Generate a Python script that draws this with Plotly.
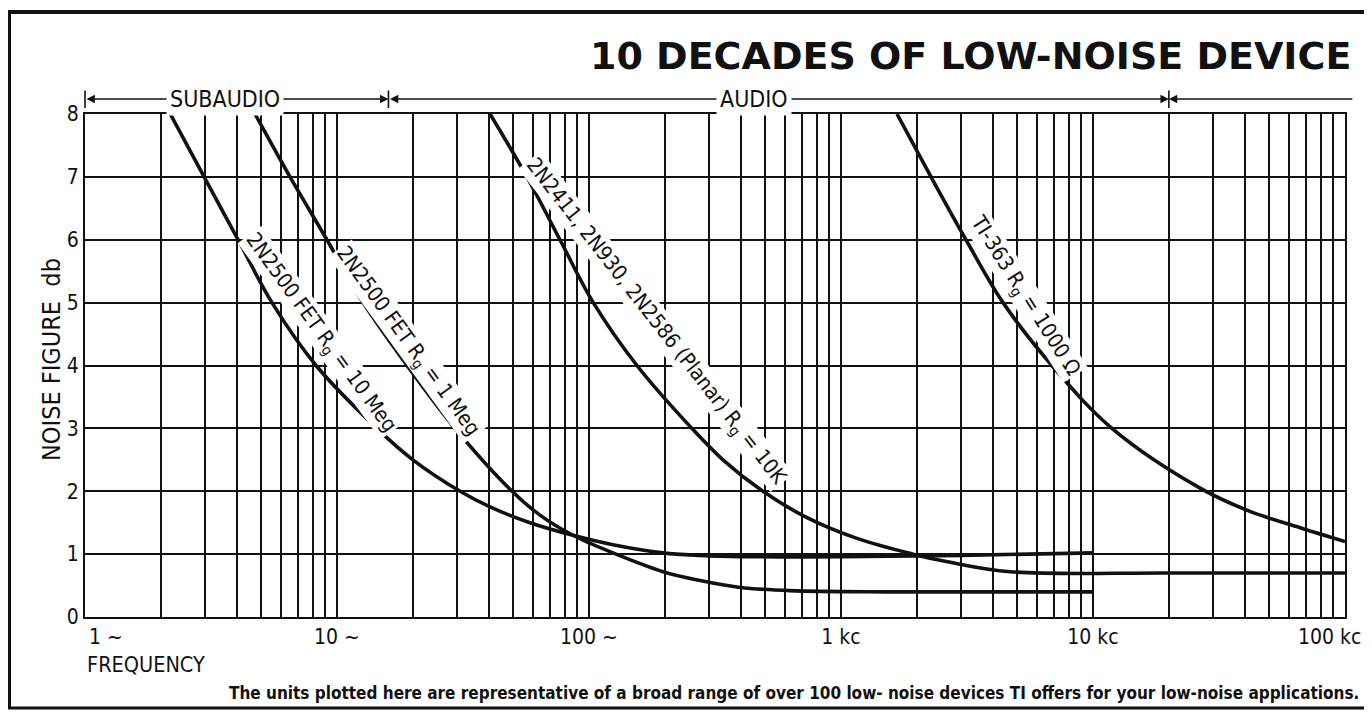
import numpy as np
import plotly.graph_objects as go

# ---------------- data ----------------
freq_10meg = [2.18, 2.97, 4.05, 5.52, 8.26, 14.4, 20.0, 30.8, 40.5, 58.3, 86.4, 124.5, 197, 276, 400, 1000, 3000, 10000]
nf_10meg = [8.0, 7.0, 6.0, 5.0, 4.0, 3.0, 2.5, 2.0, 1.75, 1.5, 1.30, 1.15, 1.02, 0.98, 0.96, 0.96, 0.98, 1.02]

freq_1meg = [4.73, 6.51, 9.12, 12.7, 18.97, 29.4, 49.5, 63.9, 86.4, 124.5, 197, 276, 397, 628, 1500, 10000]
nf_1meg = [8.0, 7.0, 6.0, 5.0, 4.0, 3.0, 2.0, 1.62, 1.30, 1.02, 0.72, 0.58, 0.47, 0.42, 0.40, 0.40]

freq_10k = [40.5, 56.7, 76.7, 104, 155, 256, 340, 490, 733, 1157, 1931, 2710, 4690, 20000, 100000]
nf_10k = [8.0, 7.0, 6.0, 5.0, 4.0, 3.0, 2.5, 2.0, 1.58, 1.25, 1.0, 0.87, 0.72, 0.70, 0.70]

freq_1000 = [1668, 2276, 3133, 4395, 6872, 11890, 26600, 41970, 66300, 100000]
nf_1000 = [8.0, 7.0, 6.0, 5.0, 4.0, 3.0, 2.05, 1.68, 1.42, 1.20]

curve_labels = [
    "2N2500 FET R<sub>g</sub> = 10 Meg",
    "2N2500 FET R<sub>g</sub> = 1 Meg",
    "2N2411, 2N930, 2N2586 (Planar) R<sub>g</sub> = 10K",
    "TI-363 R<sub>g</sub> = 1000 \u03a9",
]
label_freq = [8.64, 19.2, 183, 5370]
label_nf = [4.52, 4.38, 4.70, 5.10]
label_angle = [54, 54, 52, 57.5]

band_edges = [1, 16, 20000]
band_names = ["SUBAUDIO", "AUDIO"]
band_label_freq = [3.6, 450]

tick_freqs = [1, 10, 100, 1000, 10000, 100000]
tick_text = ["1 ~", "10 ~", "100 ~", "1 kc", "10 kc", "100 kc"]
nf_ticks = [0, 1, 2, 3, 4, 5, 6, 7, 8]
minor_freqs = [m * 10 ** d for d in range(5) for m in range(2, 10)]

title_text = "<b>10 DECADES OF LOW-NOISE DEVICE</b>"
y_title = "NOISE FIGURE&nbsp;&nbsp;db"
x_title = "FREQUENCY"
footnote = ("<b>The units plotted here are representative of a broad range of over 100 low- noise "
            "devices TI offers for your low-noise applications.</b>")

# ---------------- layout geometry ----------------
# page offset of the plot div (browser body margin)
OFF = 8
W, H = 1372 - 2 * OFF, 718 - 2 * OFF
# plot-area edges in page pixels
PL, PR, PT, PB = 85, 1345, 114, 617


def px_x(px):
    return (px - PL) / (PR - PL)


def px_y(py):
    return (PB - py) / (PB - PT)


FONT = "Liberation Sans Narrow, DejaVu Sans Condensed, Arial Narrow, sans-serif"
INK = "#111111"

fig = go.Figure()
for fx, ny in [(freq_10meg, nf_10meg), (freq_1meg, nf_1meg), (freq_10k, nf_10k), (freq_1000, nf_1000)]:
    fig.add_trace(go.Scatter(x=fx, y=ny, mode="lines",
                             line=dict(color=INK, width=3.6, shape="spline", smoothing=1.0),
                             hoverinfo="skip", showlegend=False))

annotations = []
# curve labels
for txt, f, n, a in zip(curve_labels, label_freq, label_nf, label_angle):
    annotations.append(dict(x=np.log10(f), y=n, xref="x", yref="y", text=txt, showarrow=False,
                            textangle=a, font=dict(family=FONT, size=21, color=INK),
                            bgcolor="white", borderpad=1))

# x tick labels at the two ends of the axis (kept inside the page)
edge_ticks = [(0, tick_text[0], "left", 87), (len(tick_freqs) - 1, tick_text[-1], "right", 1363)]
for idx, txt, anchor, px in edge_ticks:
    annotations.append(dict(x=px_x(px), y=px_y(637), xref="paper", yref="paper", text=txt,
                            showarrow=False, xanchor=anchor, yanchor="middle",
                            font=dict(family=FONT, size=21, color=INK)))
axis_ticktext = [""] + tick_text[1:-1] + [""]

# band strip above the plot
strip_y = px_y(99)
bar_bottom = px_y(108)
for e in band_edges:
    annotations.append(dict(x=np.log10(e), y=bar_bottom, xref="x", yref="paper", text="",
                            showarrow=True, ax=np.log10(e), axref="x", ay=-19, ayref="pixel",
                            arrowhead=0, arrowwidth=1.6, arrowcolor=INK, standoff=0, startstandoff=0))
for i in range(len(band_edges) - 1):
    annotations.append(dict(x=np.log10(band_edges[i + 1]), y=strip_y, xref="x", yref="paper", text="",
                            showarrow=True, ax=np.log10(band_edges[i]), axref="x", ay=0, ayref="pixel",
                            arrowhead=2, arrowside="end+start", arrowsize=1.2, arrowwidth=1.4,
                            arrowcolor=INK, standoff=0, startstandoff=0))
annotations.append(dict(x=np.log10(band_edges[-1]), y=strip_y, xref="x", yref="paper", text="",
                        showarrow=True, ax=185, axref="pixel", ay=0, ayref="pixel",
                        arrowhead=2, arrowside="end", arrowsize=1.2, arrowwidth=1.4,
                        arrowcolor=INK, standoff=0, startstandoff=0))
for name, f in zip(band_names, band_label_freq):
    annotations.append(dict(x=np.log10(f), y=strip_y, xref="x", yref="paper", text=name,
                            showarrow=False, bgcolor="white", borderpad=3,
                            xanchor="center", yanchor="middle",
                            font=dict(family=FONT, size=23, color=INK)))

# titles and notes
annotations.append(dict(x=px_x(1353), y=px_y(56), xref="paper", yref="paper", text=title_text,
                        showarrow=False, xanchor="right", yanchor="middle",
                        font=dict(family="DejaVu Sans", size=38, color=INK)))
annotations.append(dict(x=px_x(51), y=px_y(360), xref="paper", yref="paper", text=y_title,
                        showarrow=False, textangle=-90, xanchor="center", yanchor="middle",
                        font=dict(family=FONT, size=25, color=INK)))
annotations.append(dict(x=px_x(85), y=px_y(664), xref="paper", yref="paper", text=x_title,
                        showarrow=False, xanchor="left", yanchor="middle",
                        font=dict(family=FONT, size=21.5, color=INK)))
annotations.append(dict(x=px_x(1361), y=px_y(693), xref="paper", yref="paper", text=footnote,
                        showarrow=False, xanchor="right", yanchor="middle",
                        font=dict(family=FONT, size=17, color=INK)))

# page frame
shapes = [
    dict(type="line", xref="paper", yref="paper", x0=px_x(9), x1=px_x(9), y0=px_y(11), y1=px_y(709),
         line=dict(color=INK, width=4)),
    dict(type="line", xref="paper", yref="paper", x0=px_x(7), x1=px_x(1372), y0=px_y(12), y1=px_y(12),
         line=dict(color=INK, width=4)),
    dict(type="line", xref="paper", yref="paper", x0=px_x(7), x1=px_x(1372), y0=px_y(708), y1=px_y(708),
         line=dict(color=INK, width=3)),
]

fig.update_layout(
    width=W, height=H, autosize=False,
    margin=dict(l=PL - OFF, r=W - (PR - OFF), t=PT - OFF, b=H - (PB - OFF)),
    paper_bgcolor="white", plot_bgcolor="white",
    showlegend=False,
    annotations=annotations, shapes=shapes,
    xaxis=dict(type="log", range=[0, 5], tickmode="array", tickvals=tick_freqs, ticktext=axis_ticktext,
               automargin=False,
               showgrid=True, gridcolor=INK, gridwidth=1.7, ticks="", zeroline=False,
               showline=True, linecolor=INK, linewidth=1.8, mirror=True,
               tickfont=dict(family=FONT, size=21, color=INK), ticklabeloverflow="allow",
               minor=dict(tickmode="array", tickvals=minor_freqs, showgrid=True,
                          gridcolor=INK, gridwidth=1.5, ticks="")),
    yaxis=dict(range=[0, 8], tickmode="array", tickvals=nf_ticks, showgrid=True,
               automargin=False,
               gridcolor=INK, gridwidth=1.9, ticks="", zeroline=False,
               showline=True, linecolor=INK, linewidth=1.8, mirror=True,
               tickfont=dict(family=FONT, size=21, color=INK)),
)

fig.write_html("out.html", config={"displayModeBar": False})
